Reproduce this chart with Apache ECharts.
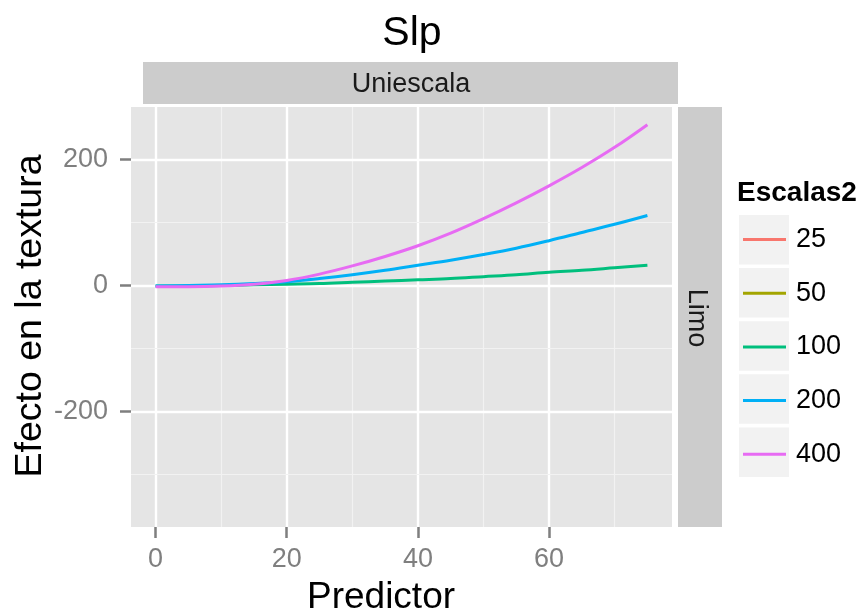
<!DOCTYPE html>
<html>
<head>
<meta charset="utf-8">
<script src="https://cdn.jsdelivr.net/npm/echarts@6/dist/echarts.min.js"></script>
<style>
  html, body { margin: 0; padding: 0; background: #ffffff; }
  #chart { width: 865px; height: 615px; }
</style>
</head>
<body>
<div id="chart"></div>
<script>
// Predictor values shared by every curve
const predictor = [0, 5, 10, 15, 20, 25, 30, 35, 40, 45, 50, 55, 60, 65, 70, 75];

// Effect on texture for each scale (Escalas2)
const escala25 = [];
const escala50 = [];
const escala100 = [-1, -1, 0, 1, 2, 3, 5, 7, 9, 11, 14, 17, 21, 24, 28, 32];
const escala200 = [-1, 0, 1, 3, 6, 11, 17, 24, 32, 40, 49, 59, 71, 84, 97, 111];
const escala400 = [-2, -2, -1, 2, 8, 18, 31, 46, 63, 83, 106, 131, 158, 187, 219, 255];

const scaleNames = ['25', '50', '100', '200', '400'];
const scaleColors = ['#F8766D', '#A3A500', '#00BF7D', '#00B0F6', '#E76BF3'];
const scaleValues = [escala25, escala50, escala100, escala200, escala400];

// Axis ticks and grid breaks
const xTicks = [0, 20, 40, 60];
const xMinor = [10, 30, 50, 70];
const yTicks = [-200, 0, 200];
const yMinor = [-300, -100, 100];

const FONT = 'Liberation Sans, Arial, sans-serif';

const chart = echarts.init(document.getElementById('chart'), null, { renderer: 'canvas' });

const gridLines = [];
xTicks.forEach(v => gridLines.push({ xAxis: v, lineStyle: { color: '#ffffff', width: 2.4, type: 'solid' } }));
xMinor.forEach(v => gridLines.push({ xAxis: v, lineStyle: { color: '#f2f2f2', width: 1.2, type: 'solid' } }));
yTicks.forEach(v => gridLines.push({ yAxis: v, lineStyle: { color: '#ffffff', width: 2.4, type: 'solid' } }));
yMinor.forEach(v => gridLines.push({ yAxis: v, lineStyle: { color: '#f2f2f2', width: 1.2, type: 'solid' } }));

const series = [{
  name: 'grid',
  type: 'line',
  data: [],
  silent: true,
  z: 1,
  markLine: {
    silent: true,
    z: 1,
    symbol: ['none', 'none'],
    label: { show: false },
    emphasis: { disabled: true },
    animation: false,
    data: gridLines
  }
}];

scaleNames.forEach((name, i) => {
  series.push({
    name: name,
    type: 'line',
    z: 10,
    smooth: 0.35,
    symbol: 'none',
    color: scaleColors[i],
    lineStyle: { width: 3, color: scaleColors[i] },
    data: scaleValues[i].map((v, k) => [predictor[k], v])
  });
});

// Legend key backgrounds
const keyBoxes = [];
const keyTop = 215, keyPitch = 53.1, keyH = 49.5;
for (let i = 0; i < scaleNames.length; i++) {
  keyBoxes.push({
    type: 'rect',
    shape: { x: 739, y: keyTop + i * keyPitch, width: 50, height: keyH },
    style: { fill: '#f2f2f2' },
    z: 0
  });
}

const option = {
  animation: false,
  backgroundColor: '#ffffff',
  grid: {
    left: 131, top: 107, width: 541, height: 420,
    show: true, backgroundColor: '#e5e5e5', borderWidth: 0
  },
  xAxis: {
    type: 'value',
    min: -3.75, max: 78.75,
    axisLine: { show: false, onZero: false },
    splitLine: { show: false },
    axisTick: {
      show: true, length: 11, customValues: xTicks,
      lineStyle: { color: '#7f7f7f', width: 2.5 }
    },
    axisLabel: {
      customValues: xTicks, margin: 19,
      color: '#7f7f7f', fontSize: 27, fontFamily: FONT
    }
  },
  yAxis: {
    type: 'value',
    min: -383, max: 283,
    axisLine: { show: false, onZero: false },
    splitLine: { show: false },
    axisTick: {
      show: true, length: 11, customValues: yTicks,
      lineStyle: { color: '#7f7f7f', width: 2.5 }
    },
    axisLabel: {
      customValues: yTicks, margin: 23,
      color: '#7f7f7f', fontSize: 27, fontFamily: FONT
    }
  },
  legend: {
    data: scaleNames,
    orient: 'vertical',
    left: 743, top: 224.5,
    padding: 0,
    icon: 'rect',
    itemWidth: 43, itemHeight: 3, itemGap: 23.7,
    selectedMode: false,
    textStyle: { fontSize: 27, lineHeight: 30, color: '#000000', fontFamily: FONT, padding: [0, 0, 0, 5] }
  },
  graphic: [
    { type: 'text', x: 412, y: 34, style: { text: 'Slp', font: '41px ' + FONT, fill: '#000000', align: 'center', verticalAlign: 'middle' } },
    { type: 'rect', shape: { x: 143, y: 62, width: 535, height: 42 }, style: { fill: '#cccccc' } },
    { type: 'text', x: 411, y: 85, style: { text: 'Uniescala', font: '27px ' + FONT, fill: '#1a1a1a', align: 'center', verticalAlign: 'middle' } },
    { type: 'rect', shape: { x: 678, y: 107, width: 44, height: 420 }, style: { fill: '#cccccc' } },
    { type: 'text', x: 696, y: 318, rotation: -Math.PI / 2, style: { text: 'Limo', font: '27px ' + FONT, fill: '#1a1a1a', align: 'center', verticalAlign: 'middle' } },
    { type: 'text', x: 31, y: 316, rotation: Math.PI / 2, style: { text: 'Efecto en la textura', font: '37.5px ' + FONT, fill: '#000000', align: 'center', verticalAlign: 'middle' } },
    { type: 'text', x: 381, y: 598, style: { text: 'Predictor', font: '37px ' + FONT, fill: '#000000', align: 'center', verticalAlign: 'middle' } },
    { type: 'text', x: 737, y: 193, style: { text: 'Escalas2', font: 'bold 28px ' + FONT, fill: '#000000', align: 'left', verticalAlign: 'middle' } }
  ].concat(keyBoxes),
  series: series
};

chart.setOption(option);
</script>
</body>
</html>
